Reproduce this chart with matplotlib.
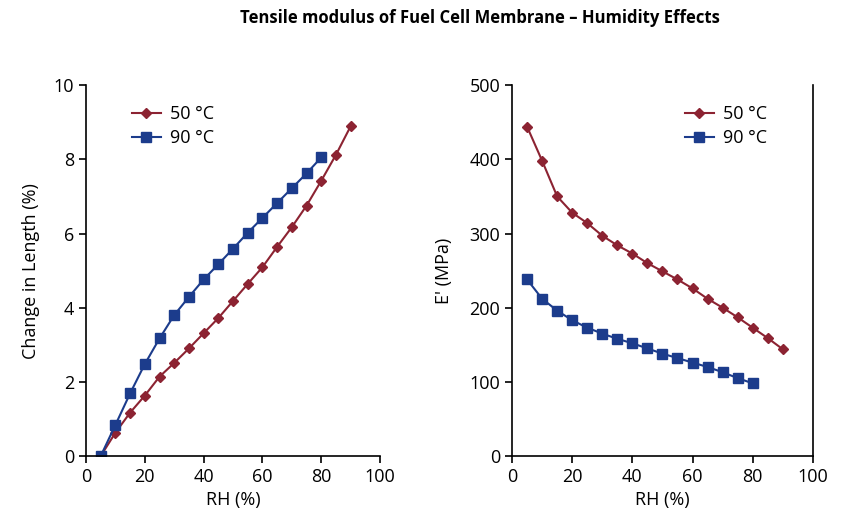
import matplotlib.pyplot as plt

plt.rcParams['font.family'] = ['Open Sans', 'DejaVu Sans']

rh_50 = [5, 10, 15, 20, 25, 30, 35, 40, 45, 50, 55, 60, 65, 70, 75, 80, 85, 90]
rh_90 = [5, 10, 15, 20, 25, 30, 35, 40, 45, 50, 55, 60, 65, 70, 75, 80]

# change in length (%)
length_50 = [0.0, 0.63, 1.17, 1.63, 2.14, 2.51, 2.90, 3.31, 3.72, 4.18, 4.64, 5.09,
             5.64, 6.17, 6.75, 7.42, 8.12, 8.89]
length_90 = [0.0, 0.84, 1.69, 2.48, 3.17, 3.80, 4.29, 4.76, 5.17, 5.59, 6.02, 6.42,
             6.82, 7.22, 7.62, 8.05]

# tensile modulus E' (MPa)
modulus_50 = [444, 398, 350, 328, 314, 297, 284, 273, 260, 249, 238, 226,
              212, 200, 187, 173, 159, 144]
modulus_90 = [238, 212, 196, 183, 173, 165, 158, 152, 145, 138, 132, 126,
              120, 113, 105, 98]

red = '#8c2332'
blue = '#1c3c8c'

fig = plt.figure(figsize=(8.52, 5.29), dpi=100)
ax1 = fig.add_axes([0.101, 0.138, 0.345, 0.701])
ax2 = fig.add_axes([0.601, 0.138, 0.353, 0.701])

fig.text(0.563, 0.966, 'Tensile modulus of Fuel Cell Membrane \u2013 Humidity Effects',
         ha='center', va='center', fontsize=12, fontweight='bold')

ax1.plot(rh_50, length_50, color=red, marker='D', markersize=5.5, lw=1.5, label='50 \u00b0C')
ax1.plot(rh_90, length_90, color=blue, marker='s', markersize=7, lw=1.5, label='90 \u00b0C')
ax1.set_xlim(0, 100)
ax1.set_ylim(0, 10)
ax1.set_xticks(range(0, 101, 20))
ax1.set_yticks(range(0, 11, 2))
ax1.set_xlabel('RH (%)', fontsize=13)
ax1.set_ylabel('Change in Length (%)', fontsize=13, labelpad=10)
ax1.spines['top'].set_visible(False)
ax1.spines['right'].set_visible(False)
ax1.legend(loc='upper left', bbox_to_anchor=(0.1, 0.99), frameon=False, fontsize=13,
           handlelength=1.6, handletextpad=0.5, labelspacing=0.35)

ax2.plot(rh_50, modulus_50, color=red, marker='D', markersize=5.5, lw=1.5, label='50 \u00b0C')
ax2.plot(rh_90, modulus_90, color=blue, marker='s', markersize=7, lw=1.5, label='90 \u00b0C')
ax2.set_xlim(0, 100)
ax2.set_ylim(0, 500)
ax2.set_xticks(range(0, 101, 20))
ax2.set_yticks(range(0, 501, 100))
ax2.set_xlabel('RH (%)', fontsize=13)
ax2.set_ylabel("E' (MPa)", fontsize=13, labelpad=12)
ax2.spines['top'].set_visible(False)
ax2.legend(loc='upper left', bbox_to_anchor=(0.52, 0.99), frameon=False, fontsize=13,
           handlelength=1.6, handletextpad=0.5, labelspacing=0.35)

for ax in (ax1, ax2):
    ax.tick_params(labelsize=13, direction='out', length=5, width=1.2)
    for s in ax.spines.values():
        s.set_linewidth(1.2)

fig.savefig('out.png', dpi=100)
